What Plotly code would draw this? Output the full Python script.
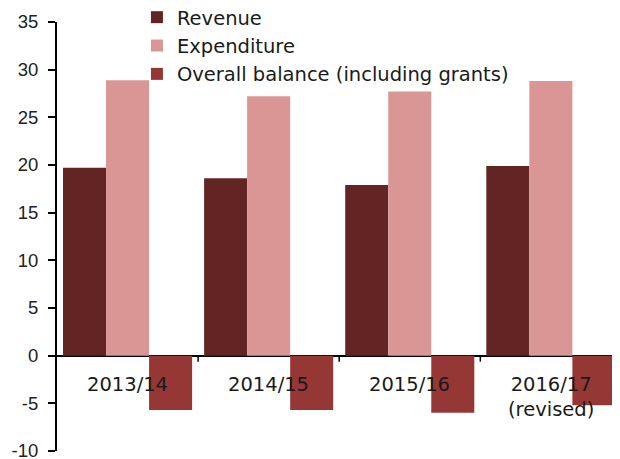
import plotly.graph_objects as go

# ============================================================================
# DONNÉES (% du PIB)
# ============================================================================
annees = ["2013/14", "2014/15", "2015/16", "2016/17"]
libelles_annees = ["2013/14", "2014/15", "2015/16", "2016/17<br>(revised)"]
recettes = [19.7, 18.6, 17.9, 19.9]
depenses = [28.9, 27.2, 27.7, 28.8]
solde = [-5.7, -5.7, -6.0, -5.2]

graduations_y = [-10, -5, 0, 5, 10, 15, 20, 25, 30, 35]
etiquettes_y = ["-10", "-5", "0", "5", "10", "15", "20", "25", "30", "35"]

COULEURS = {
    "Revenue": "#632523",
    "Expenditure": "#DA9694",
    "Overall balance (including grants)": "#953735",
}
POLICE = "DejaVu Sans"

# La page HTML ajoute une marge de 8 px autour de la figure : on compense
DECALAGE = 8
MARGE = dict(l=57 - DECALAGE, r=DECALAGE, t=22 - DECALAGE, b=8 + DECALAGE,
             autoexpand=False)
HAUT_PAPIER = 459 - MARGE["t"] - MARGE["b"]

fig = go.Figure()
for nom, valeurs in [("Revenue", recettes),
                     ("Expenditure", depenses),
                     ("Overall balance (including grants)", solde)]:
    fig.add_trace(go.Bar(
        x=list(range(len(annees))),
        y=valeurs,
        name=nom,
        marker_color=COULEURS[nom],
        marker_line_width=0,
    ))

# Étiquettes des catégories sous la ligne zéro
for i, lib in enumerate(libelles_annees):
    fig.add_annotation(
        x=i, y=0, xref="x", yref="y",
        text=lib, showarrow=False,
        yanchor="top", yshift=-15,
        font=dict(family=POLICE, size=19.5, color="#1a1a1a"),
    )

# Petits traits de séparation entre catégories
for i in range(len(annees)):
    fig.add_shape(
        type="line", xref="x", yref="y",
        x0=i + 0.5, x1=i + 0.5,
        ysizemode="pixel", yanchor=0, y0=0, y1=-6,
        line=dict(color="black", width=1.5),
    )

fig.update_layout(
    width=620,
    height=459,
    margin=MARGE,
    plot_bgcolor="white",
    paper_bgcolor="white",
    barmode="group",
    bargap=0.085,
    bargroupgap=0,
    showlegend=True,
    legend=dict(
        x=0.142, y=1 + 24 / HAUT_PAPIER, xanchor="left", yanchor="top",
        font=dict(family=POLICE, size=19.5, color="#1a1a1a"),
        bgcolor="rgba(0,0,0,0)",
        tracegroupgap=0,
    ),
)

fig.update_xaxes(
    range=[-0.5, 3.49],
    showticklabels=False,
    showgrid=False,
    showline=False,
    ticks="",
    zeroline=False,
)

fig.update_yaxes(
    range=[-10, 35],
    tickvals=graduations_y,
    ticktext=etiquettes_y,
    automargin=False,
    showgrid=False,
    showline=True,
    linecolor="black",
    linewidth=2,
    ticks="outside",
    ticklen=7,
    tickwidth=1.5,
    tickcolor="black",
    ticklabelstandoff=6,
    zeroline=True,
    zerolinecolor="black",
    zerolinewidth=2,
    tickfont=dict(family="Liberation Sans", size=18.5, color="#222"),
)

fig.write_html("out.html")
